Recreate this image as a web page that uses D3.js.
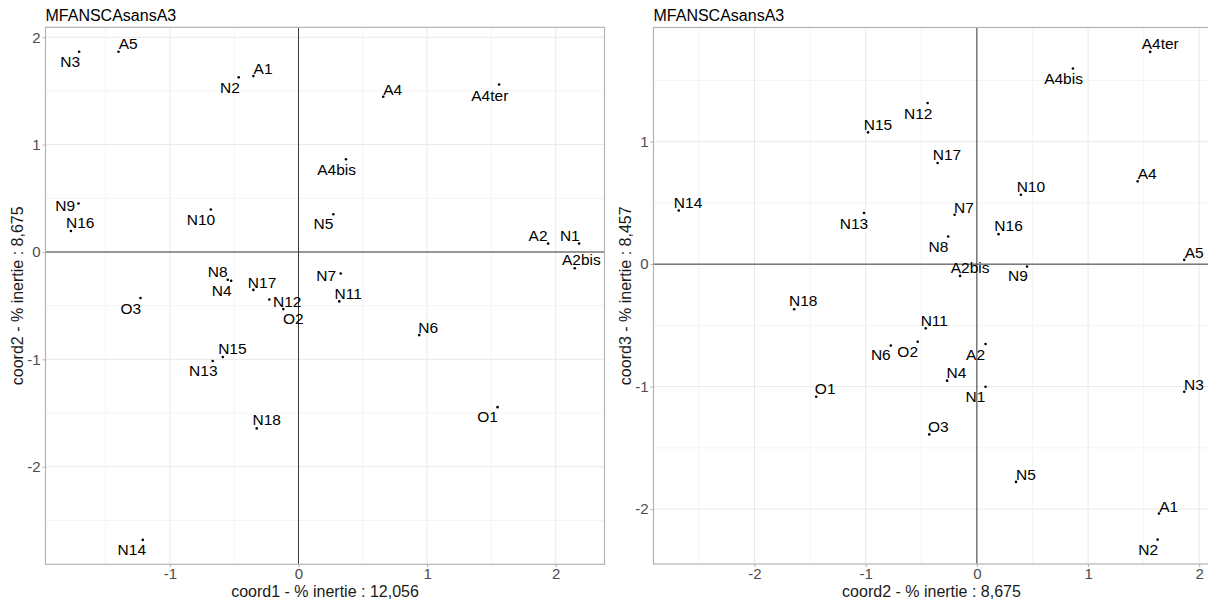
<!DOCTYPE html>
<html>
<head>
<meta charset="utf-8">
<script src="https://cdn.jsdelivr.net/npm/d3@7"></script>
<style>
  body { margin: 0; background: #fff; }
  svg text { font-family: "Liberation Sans", Arial, sans-serif; }
</style>
</head>
<body>
<div id="chart"></div>
<script>
// Individuals and their coordinates on the first three MFA dimensions.
const names = ['A1', 'A2', 'A2bis', 'A4', 'A4bis', 'A4ter', 'A5',
    'N1', 'N2', 'N3', 'N4', 'N5', 'N6', 'N7', 'N8', 'N9', 'N10', 'N11', 'N12',
    'N13', 'N14', 'N15', 'N16', 'N17', 'N18', 'O1', 'O2', 'O3'];
const coord1 = [-0.351, 1.941, 2.148, 0.659, 0.369, 1.560, -1.400,
    2.182, -0.465, -1.706, -0.524, 0.271, 0.939, 0.328, -0.550, -1.711, -0.682, 0.317, -0.227,
    -0.667, -1.211, -0.589, -1.770, -0.351, -0.325, 1.548, -0.118, -1.229];
const coord2 = [1.638, 0.078, -0.151, 1.446, 0.864, 1.559, 1.865,
    0.078, 1.626, 1.865, -0.268, 0.352, -0.774, -0.200, -0.258, 0.451, 0.396, -0.460, -0.443,
    -1.015, -2.681, -0.979, 0.195, -0.353, -1.643, -1.445, -0.532, -0.428];
const coord3 = [-2.036, -0.652, -0.096, 0.676, 1.597, 1.733, 0.035,
    -1.001, -2.249, -1.042, -0.951, -1.778, -0.665, 0.403, 0.226, -0.019, 0.567, -0.524, 1.316,
    0.417, 0.438, 1.076, 0.245, 0.826, -0.368, -1.083, -0.633, -1.390];
const inertia = [12.056, 8.675, 8.457];
const plotTitle = 'MFANSCAsansA3';

// Label nudges (pixels from the point to the label centre), as placed by ggrepel.
const nudge12 = {
    A1: [9.7, -8], A2: [-10, -8.3], A2bis: [6.7, -8.3], A4: [9.4, -7.4], A4bis: [-9.3, 10.3],
    A4ter: [-9.3, 10.7], A5: [9.7, -8.7], N1: [-9.3, -8.3], N2: [-8.7, 9.7], N3: [-9, 10],
    N4: [-9.5, 9.7], N5: [-10, 9], N6: [9, -8], N7: [-14.5, 2], N8: [-10, -8.5],
    N9: [-13.3, 2.2], N10: [-9.9, 10.2], N11: [9, -8.4], N12: [17.9, 1.7], N13: [-9.4, 9],
    N14: [-11, 9.3], N15: [9.6, -8.7], N16: [9.3, -8.3], N17: [8.7, -7.3], N18: [10, -9],
    O1: [-10, 9.4], O2: [10, 9.3], O3: [-9.6, 10]
};
const nudge23 = {
    A1: [9.7, -7.6], A2: [-10, 10], A2bis: [10, -8.3], A4: [9.6, -8.4], A4bis: [-9.4, 10],
    A4ter: [10, -8], A5: [10, -7.7], N1: [-10, 10], N2: [-9.4, 10], N3: [9.7, -7.7],
    N4: [9.4, -8], N5: [10, -7.7], N6: [-10, 9.3], N7: [9.3, -7.7], N8: [-9.7, 10],
    N9: [-9, 9.3], N10: [10, -8.3], N11: [8.6, -8.3], N12: [-9.4, 10], N13: [-10, 10],
    N14: [9.3, -8], N15: [10, -7.7], N16: [10, -8.3], N17: [9.4, -8.3], N18: [9, -8.6],
    O1: [9, -8.4], O2: [-10, 10], O3: [9, -7.6]
};

const W = 1208, H = 605;
const svg = d3.select('#chart').append('svg')
    .attr('width', W).attr('height', H)
    .attr('viewBox', `0 0 ${W} ${H}`);

const fmtPct = v => v.toFixed(3).replace('.', ',');

// ggplot-style continuous scale: data range expanded by 5% on each side.
function expanded(values) {
    const [lo, hi] = d3.extent(values);
    const pad = (hi - lo) * 0.05;
    return [lo - pad, hi + pad];
}

function drawPanel(box, xs, ys, xLab, yLab, nudge) {
    const x = d3.scaleLinear().domain(expanded(xs)).range([box.x0, box.x1]);
    const y = d3.scaleLinear().domain(expanded(ys)).range([box.y1, box.y0]);
    const g = svg.append('g');

    const clip = 'clip' + Math.round(box.x0);
    svg.append('clipPath').attr('id', clip).append('rect')
        .attr('x', box.x0).attr('y', box.y0)
        .attr('width', box.x1 - box.x0).attr('height', box.y1 - box.y0);
    const inner = g.append('g').attr('clip-path', `url(#${clip})`);

    // Grid: minor at halves, major at integers.
    const xMajor = d3.range(Math.ceil(x.domain()[0]), Math.floor(x.domain()[1]) + 1);
    const yMajor = d3.range(Math.ceil(y.domain()[0]), Math.floor(y.domain()[1]) + 1);
    const xMinor = d3.range(Math.ceil(x.domain()[0] * 2), Math.floor(x.domain()[1] * 2) + 1)
        .map(v => v / 2).filter(v => !Number.isInteger(v));
    const yMinor = d3.range(Math.ceil(y.domain()[0] * 2), Math.floor(y.domain()[1] * 2) + 1)
        .map(v => v / 2).filter(v => !Number.isInteger(v));

    inner.selectAll('.vminor').data(xMinor).enter().append('line')
        .attr('x1', d => x(d)).attr('x2', d => x(d)).attr('y1', box.y0).attr('y2', box.y1)
        .attr('stroke', '#f4f4f4').attr('stroke-width', 1);
    inner.selectAll('.hminor').data(yMinor).enter().append('line')
        .attr('y1', d => y(d)).attr('y2', d => y(d)).attr('x1', box.x0).attr('x2', box.x1)
        .attr('stroke', '#f4f4f4').attr('stroke-width', 1);
    inner.selectAll('.vmajor').data(xMajor).enter().append('line')
        .attr('x1', d => x(d)).attr('x2', d => x(d)).attr('y1', box.y0).attr('y2', box.y1)
        .attr('stroke', '#e9e9e9').attr('stroke-width', 1);
    inner.selectAll('.hmajor').data(yMajor).enter().append('line')
        .attr('y1', d => y(d)).attr('y2', d => y(d)).attr('x1', box.x0).attr('x2', box.x1)
        .attr('stroke', '#e9e9e9').attr('stroke-width', 1);

    // Reference lines at zero.
    inner.append('line')
        .attr('x1', box.x0).attr('x2', box.x1).attr('y1', y(0)).attr('y2', y(0))
        .attr('stroke', '#3a3a3a').attr('stroke-width', 1);
    inner.append('line')
        .attr('x1', x(0)).attr('x2', x(0)).attr('y1', box.y0).attr('y2', box.y1)
        .attr('stroke', '#3a3a3a').attr('stroke-width', 1);

    // Panel border.
    g.append('rect')
        .attr('x', box.x0).attr('y', box.y0)
        .attr('width', box.x1 - box.x0).attr('height', box.y1 - box.y0)
        .attr('fill', 'none').attr('stroke', '#b3b3b3').attr('stroke-width', 1.2);

    // Axes.
    const xAxis = g.append('g')
        .attr('transform', `translate(0,${box.y1})`)
        .call(d3.axisBottom(x).tickValues(xMajor).tickSize(3).tickPadding(1.5));
    const yAxis = g.append('g')
        .attr('transform', `translate(${box.x0},0)`)
        .call(d3.axisLeft(y).tickValues(yMajor).tickSize(3).tickPadding(2));
    [xAxis, yAxis].forEach(a => {
        a.select('.domain').remove();
        a.selectAll('line').attr('stroke', '#b3b3b3');
        a.selectAll('text')
            .attr('fill', '#4d4d4d')
            .style('font-size', '15px')
            .style('font-family', '"Liberation Sans", Arial, sans-serif')
            .text(d => String(d));
    });

    // Points and labels.
    const pts = names.map((n, i) => ({ name: n, x: xs[i], y: ys[i] }));
    g.selectAll('.pt').data(pts).enter().append('circle')
        .attr('cx', d => x(d.x)).attr('cy', d => y(d.y))
        .attr('r', 1.3).attr('fill', '#000');
    g.selectAll('.lbl').data(pts).enter().append('text')
        .attr('x', d => x(d.x) + nudge[d.name][0])
        .attr('y', d => y(d.y) + nudge[d.name][1])
        .attr('dy', '0.36em')
        .attr('text-anchor', 'middle')
        .style('font-size', '15.5px')
        .attr('fill', '#000')
        .text(d => d.name);

    // Titles.
    svg.append('text')
        .attr('x', box.x0).attr('y', 21)
        .style('font-size', '16px').attr('fill', '#000')
        .text(plotTitle);
    svg.append('text')
        .attr('x', (box.x0 + box.x1) / 2)
        .attr('y', 596.5)
        .attr('text-anchor', 'middle')
        .style('font-size', '16px').attr('fill', '#1a1a1a')
        .text(xLab);
    svg.append('text')
        .attr('transform', `translate(${box.x0 - 28},${(box.y0 + box.y1) / 2}) rotate(-90)`)
        .attr('text-anchor', 'middle')
        .attr('dy', '0.35em')
        .style('font-size', '16px').attr('fill', '#1a1a1a')
        .text(yLab);
}

drawPanel({ x0: 45.5, x1: 604.5, y0: 27.3, y1: 564.3 }, coord1, coord2,
    `coord1 - % inertie : ${fmtPct(inertia[0])}`, `coord2 - % inertie : ${fmtPct(inertia[1])}`, nudge12);
drawPanel({ x0: 653.5, x1: 1209.5, y0: 27.5, y1: 564.0 }, coord2, coord3,
    `coord2 - % inertie : ${fmtPct(inertia[1])}`, `coord3 - % inertie : ${fmtPct(inertia[2])}`, nudge23);
</script>
</body>
</html>
